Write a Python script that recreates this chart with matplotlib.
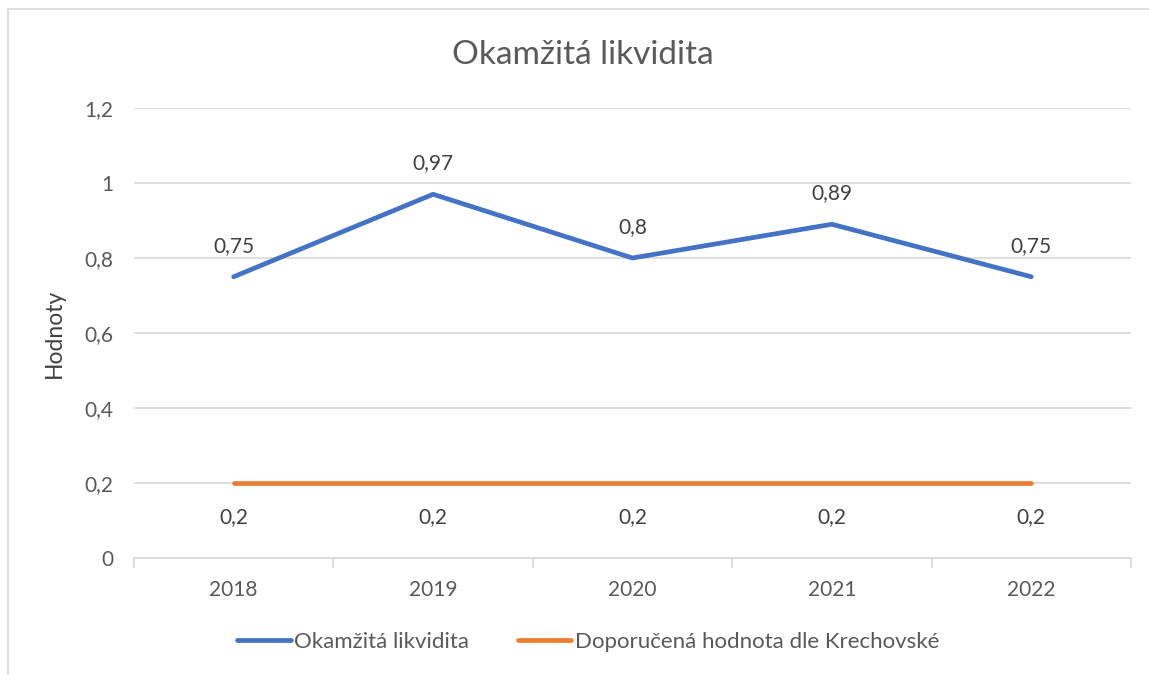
import matplotlib.pyplot as plt
from matplotlib.patches import Rectangle
import numpy as np

years = ["2018", "2019", "2020", "2021", "2022"]
likvidita = [0.75, 0.97, 0.8, 0.89, 0.75]
doporucena = [0.2, 0.2, 0.2, 0.2, 0.2]
y_ticks = [0, 0.2, 0.4, 0.6, 0.8, 1.0, 1.2]

plt.rcParams['font.family'] = ['Lato', 'DejaVu Sans']
text_col = "#595959"
grid_col = "#d9d9d9"

fig = plt.figure(figsize=(11.49, 6.75), dpi=100)
ax = fig.add_axes([0.1166, 0.1733, 0.8677, 0.6667])

# rámeček grafu (pravý a spodní okraj jsou oříznuté)
fig.patches.append(Rectangle((8 / 1149, -0.05), 1.1, 1.05 - 9 / 675,
                             transform=fig.transFigure, fill=False,
                             edgecolor=grid_col, linewidth=1.2))

x = np.arange(len(years))
ax.plot(x, likvidita, color="#4472C4", linewidth=3.4, solid_capstyle="round",
        label="Okamžitá likvidita", zorder=3)
ax.plot(x, doporucena, color="#ED7D31", linewidth=3.4, solid_capstyle="round",
        label="Doporučená hodnota dle Krechovské", zorder=3)

def fmt(v):
    return f"{v:g}".replace(".", ",")

for i in range(len(years)):
    ax.annotate(fmt(likvidita[i]), (x[i], likvidita[i]), xytext=(0, 15),
                textcoords="offset points", ha="center", va="bottom",
                fontsize=15, color="#404040")
    ax.annotate(fmt(doporucena[i]), (x[i], doporucena[i]), xytext=(0, -17),
                textcoords="offset points", ha="center", va="top",
                fontsize=15, color="#404040")

ax.set_xlim(-0.5, len(years) - 0.5)
ax.set_ylim(0, 1.2)
ax.set_yticks(y_ticks)
ax.set_yticklabels([fmt(v) for v in y_ticks])
ax.set_xticks(x)
ax.set_xticklabels(years)
ax.set_xticks(np.arange(-0.5, len(years)), minor=True)
ax.tick_params(axis="x", which="major", length=0, pad=16, labelsize=15, labelcolor=text_col)
ax.tick_params(axis="x", which="minor", length=7, width=1.2, color=grid_col)
ax.tick_params(axis="y", length=0, pad=15, labelsize=15, labelcolor=text_col)

ax.grid(axis="y", color=grid_col, linewidth=1.2)
ax.set_axisbelow(True)
for s in ["top", "right", "left"]:
    ax.spines[s].set_visible(False)
ax.spines["bottom"].set_color(grid_col)
ax.spines["bottom"].set_linewidth(1.2)

ax.set_ylabel("Hodnoty", fontsize=16.5, color="#404040", labelpad=14)
fig.text(0.507, 0.918, "Okamžitá likvidita", ha="center", va="center",
         fontsize=24, color=text_col)

fig.legend(loc="center", bbox_to_anchor=(0.512, 0.049), ncol=2, frameon=False,
           fontsize=16, labelcolor=text_col, handlelength=2.4, handletextpad=0.15,
           columnspacing=2.2)

fig.savefig("out.png", dpi=100)
